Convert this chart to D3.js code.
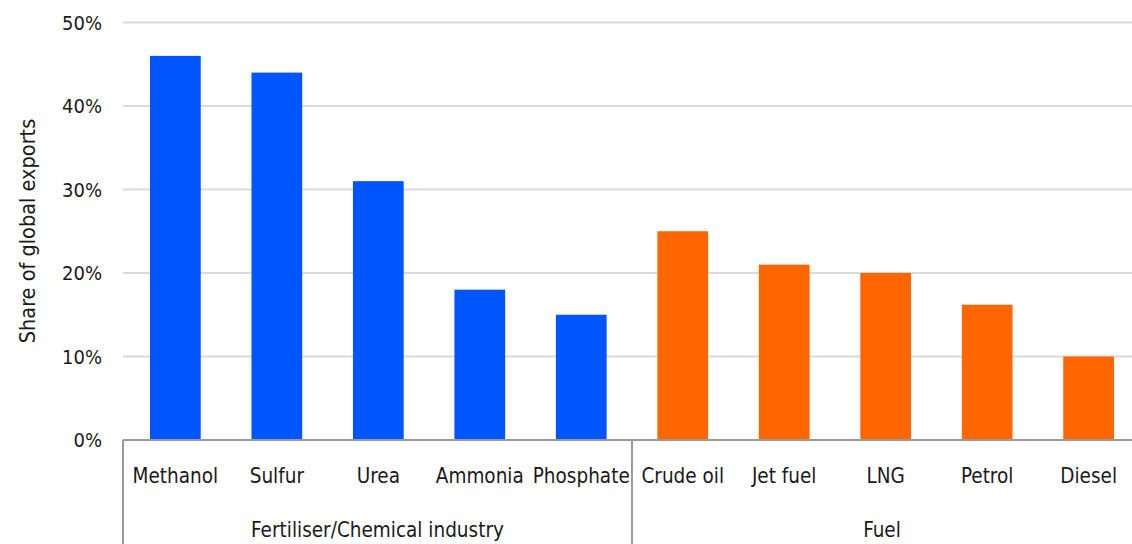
<!DOCTYPE html>
<html>
<head>
<meta charset="utf-8">
<script src="https://cdn.jsdelivr.net/npm/d3@7"></script>
<style>
  body { margin: 0; background: #fff; }
  text { font-family: "DejaVu Sans Condensed", "Liberation Sans", sans-serif; fill: #1a1a1a; }
</style>
</head>
<body>
<svg id="chart"></svg>
<script>
((() => {

  // data
  const categories = ["Methanol", "Sulfur", "Urea", "Ammonia", "Phosphate",
                      "Crude oil", "Jet fuel", "LNG", "Petrol", "Diesel"];
  const values = [46, 44, 31, 18, 15, 25, 21, 20, 16.2, 10];
  const groups = ["Fertiliser/Chemical industry", "Fertiliser/Chemical industry",
                  "Fertiliser/Chemical industry", "Fertiliser/Chemical industry",
                  "Fertiliser/Chemical industry", "Fuel", "Fuel", "Fuel", "Fuel", "Fuel"];
  const groupNames = ["Fertiliser/Chemical industry", "Fuel"];
  const groupColors = ["#0055ff", "#ff6600"];
  const yTicks = [0, 10, 20, 30, 40, 50];

  var width = 1132;
  var height = 544;
  var left = 123, right = 1141, top = 22.5, bottom = 440;

  var svg = d3.select("#chart")
    .attr("width", width)
    .attr("height", height);

  var x = d3.scaleBand()
    .domain(categories)
    .range([left, right])
    .paddingInner(0.5)
    .paddingOuter(0.266);

  var y = d3.scaleLinear()
    .domain([0, 50])
    .range([bottom, top]);

  var color = d3.scaleOrdinal().domain(groupNames).range(groupColors);

  // gridlines
  svg.append("g")
    .selectAll("line")
    .data(yTicks.filter(d => d > 0))
    .enter()
    .append("line")
    .attr("x1", left)
    .attr("x2", width)
    .attr("y1", d => y(d))
    .attr("y2", d => y(d))
    .attr("stroke", "#dadada")
    .attr("stroke-width", 2);

  // y tick labels
  svg.append("g")
    .selectAll("text")
    .data(yTicks)
    .enter()
    .append("text")
    .attr("x", 102)
    .attr("y", d => y(d))
    .attr("dy", "0.36em")
    .attr("text-anchor", "end")
    .attr("font-size", 20)
    .text(d => d + "%");

  // y title
  svg.append("text")
    .attr("transform", "translate(35,231) rotate(-90)")
    .attr("text-anchor", "middle")
    .attr("font-size", 21.5)
    .text("Share of global exports");

  // bars
  svg.append("g")
    .selectAll("rect")
    .data(categories)
    .enter()
    .append("rect")
    .attr("x", d => x(d))
    .attr("width", x.bandwidth())
    .attr("y", (d, i) => y(values[i]))
    .attr("height", (d, i) => y(0) - y(values[i]))
    .attr("fill", (d, i) => color(groups[i]));

  // axis box
  var step = x.step();
  var axisG = svg.append("g")
    .attr("stroke", "#9a9a9a")
    .attr("stroke-width", 2);

  axisG.append("line")
    .attr("x1", left).attr("x2", width)
    .attr("y1", bottom).attr("y2", bottom);

  // group boundaries
  var bounds = [left];
  groupNames.forEach(g => {
    let idx = groups.lastIndexOf(g);
    bounds.push(x(categories[idx]) + x.bandwidth() + step * x.paddingInner() / 2);
  });
  axisG.selectAll("line.sep")
    .data(bounds.slice(0, -1))
    .enter()
    .append("line")
    .attr("class", "sep")
    .attr("x1", d => d).attr("x2", d => d)
    .attr("y1", bottom).attr("y2", height);

  // category labels
  svg.append("g")
    .selectAll("text")
    .data(categories)
    .enter()
    .append("text")
    .attr("x", d => x(d) + x.bandwidth() / 2)
    .attr("y", 483)
    .attr("text-anchor", "middle")
    .attr("font-size", 20.5)
    .text(d => d);

  // group labels
  svg.append("g")
    .selectAll("text")
    .data(groupNames)
    .enter()
    .append("text")
    .attr("x", (d, i) => (bounds[i] + Math.min(bounds[i + 1], width)) / 2)
    .attr("y", 537)
    .attr("text-anchor", "middle")
    .attr("font-size", 20.5)
    .text(d => d);

})());
</script>
</body>
</html>
